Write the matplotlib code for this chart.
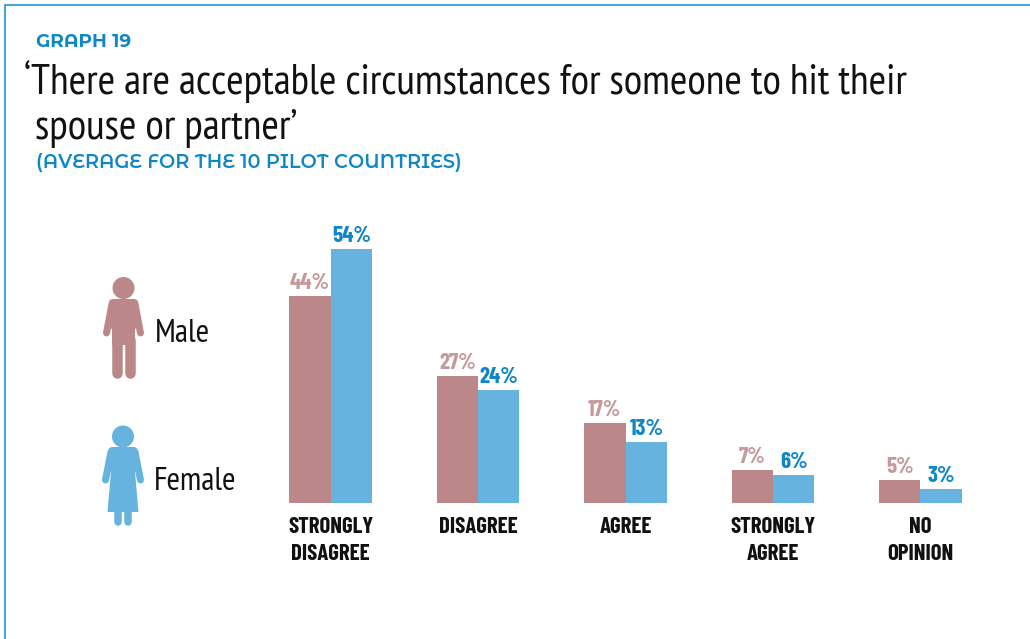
import matplotlib
matplotlib.use("Agg")
import matplotlib.pyplot as plt
from matplotlib.patches import Circle, Polygon, FancyBboxPatch
from matplotlib.lines import Line2D
import numpy as np
import logging
logging.getLogger("matplotlib.font_manager").setLevel(logging.ERROR)

categories = ["STRONGLY\nDISAGREE", "DISAGREE", "AGREE", "STRONGLY\nAGREE", "NO\nOPINION"]
male = [44, 27, 17, 7, 5]
female = [54, 24, 13, 6, 3]
legend_labels = ["Male", "Female"]

MALE_C = "#BB8789"
FEMALE_C = "#66B3DF"
BLUE_TXT = "#0E86C8"
MALE_TXT = "#C49A9C"
FRAME = "#4CA5D6"
NARROW = ["PT Sans Narrow", "Roboto", "DejaVu Sans"]
XCOND = ["Barlow Condensed", "PT Sans Narrow", "Roboto", "DejaVu Sans"]
HEAD = ["Montserrat Alternates", "Poppins", "Open Sans", "DejaVu Sans"]

W, H = 1030, 639
fig = plt.figure(figsize=(W/100, H/100), dpi=100, facecolor="white")

bg = fig.add_axes([0, 0, 1, 1])
bg.set_xlim(0, W); bg.set_ylim(H, 0); bg.axis("off")
bg.add_line(Line2D([5, 5, W], [H, 5, 5], color=FRAME, lw=1.5))

bg.text(36.5, 42.5, "GRAPH 19", color=BLUE_TXT, family=HEAD, weight="bold", fontsize=13.3, va="center")
bg.text(24, 82, "‘There are acceptable circumstances for someone to hit their", family=NARROW, fontsize=30.55, va="center", color="#111111")
bg.text(35, 128, "spouse or partner’", family=NARROW, fontsize=30.55, va="center", color="#111111")
bg.text(36.5, 162.5, "(AVERAGE FOR THE 10 PILOT COUNTRIES)", color=BLUE_TXT, family=HEAD, weight="semibold", fontsize=13.9, va="center")

def limb(x0, y0, x1, y1, w, c):
    bg.add_line(Line2D([x0, x1], [y0, y1], color=c, lw=w*0.72, solid_capstyle="round"))

# male icon
bg.add_patch(Circle((123.5, 288), 11, color=MALE_C, lw=0))
bg.add_patch(Polygon([(112, 303), (135, 303), (135, 345), (112, 345)], color=MALE_C, lw=0))
bg.add_patch(FancyBboxPatch((109, 299), 29, 30, boxstyle="round,pad=0,rounding_size=4", color=MALE_C, lw=0))
limb(112, 304, 106.5, 333, 7, MALE_C)
limb(135, 304, 140.5, 333, 7, MALE_C)
limb(117, 340, 117, 372.5, 10.5, MALE_C)
limb(130, 340, 130, 372.5, 10.5, MALE_C)

# female icon
bg.add_patch(Circle((123, 436.5), 11, color=FEMALE_C, lw=0))
bg.add_patch(FancyBboxPatch((108.5, 447), 29, 25, boxstyle="round,pad=0,rounding_size=4", color=FEMALE_C, lw=0))
bg.add_patch(Polygon([(112, 460), (134, 460), (138.5, 512), (107.5, 512)], color=FEMALE_C, lw=0))
limb(111, 452, 105.5, 480, 7, FEMALE_C)
limb(135, 452, 140.5, 480, 7, FEMALE_C)
limb(117.5, 510, 117.5, 521.5, 7.5, FEMALE_C)
limb(127.5, 510, 127.5, 521.5, 7.5, FEMALE_C)

bg.text(155, 334, legend_labels[0], family=NARROW, fontsize=23.5, va="center", color="#111111")
bg.text(154, 482, legend_labels[1], family=NARROW, fontsize=23.5, va="center", color="#111111")

left, right, base, top = 258, 1003, 503, 221
ax = fig.add_axes([left/W, 1-base/H, (right-left)/W, (base-top)/H])
ax.patch.set_alpha(0)
ax.set_ylim(0, (base-top)/4.7)
spacing = 147.5
width = 41.5/spacing
ax.set_xlim((left-330.5)/spacing, (right-330.5)/spacing)
x = np.arange(len(categories))
b1 = ax.bar(x-width/2, male, width, color=MALE_C, lw=0)
b2 = ax.bar(x+width/2, female, width, color=FEMALE_C, lw=0)
for bars, vals, col in ((b1, male, MALE_TXT), (b2, female, BLUE_TXT)):
    for r, v in zip(bars, vals):
        ax.annotate(f"{v}%", (r.get_x()+r.get_width()/2, v), xytext=(0, 2), textcoords="offset points",
                    ha="center", va="bottom", family=XCOND, weight="bold", fontsize=16.5, color=col)
ax.set_xticks(x)
ax.set_xticklabels(categories, family=XCOND, weight="bold", fontsize=16.5, color="#111111", linespacing=1.42, va="top")
ax.tick_params(axis="x", length=0, pad=10)
ax.set_yticks([])
for s in ax.spines.values():
    s.set_visible(False)

fig.savefig("out.png", dpi=100)
